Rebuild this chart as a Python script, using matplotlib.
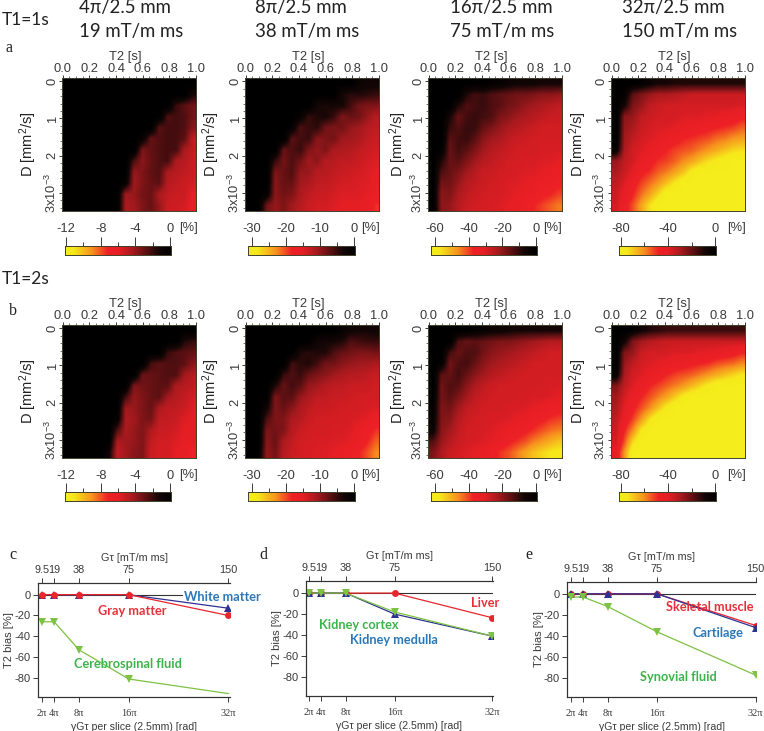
import numpy as np
import matplotlib
matplotlib.use('Agg')
from matplotlib import pyplot as plt
from matplotlib.colors import LinearSegmentedColormap
from matplotlib.ticker import MultipleLocator

W, H = 764, 731
plt.rcParams['font.family'] = ['Liberation Sans', 'DejaVu Sans']
plt.rcParams['axes.unicode_minus'] = False
plt.rcParams['mathtext.default'] = 'regular'

# heat maps: share of the colour bar range
# 0 = black (0 %), 100 = yellow (bar minimum); rows go down in D, columns across in T2
a_4pi = [
    [0,0,0,0,0,0,0,0,0,0,0,0,0,0,0,0],
    [0,0,0,0,0,0,0,0,0,0,0,0,0,0,0,12],
    [0,0,0,0,0,0,0,0,0,0,0,0,0,18,24,28],
    [0,0,0,0,0,0,0,0,0,0,0,0,22,20,22,28],
    [0,0,0,0,0,0,0,0,0,0,0,24,20,20,22,32],
    [0,0,0,0,0,0,0,0,0,5,26,22,20,20,24,42],
    [0,0,0,0,0,0,0,0,0,30,25,22,20,20,38,42],
    [0,0,0,0,0,0,0,0,22,32,26,22,20,38,40,44],
    [0,0,0,0,0,0,0,0,34,30,25,22,38,40,42,44],
    [0,0,0,0,0,0,0,5,36,30,26,24,40,42,44,46],
    [0,0,0,0,0,0,0,36,34,28,26,38,42,44,44,50],
    [0,0,0,0,0,0,0,38,36,30,26,34,44,45,46,52],
]
a_8pi = [
    [0,0,0,0,0,0,0,0,0,0,0,0,0,8,10,10],
    [0,0,0,0,0,0,0,0,0,0,0,12,16,14,16,18],
    [0,0,0,0,0,0,0,0,12,14,12,12,20,28,30,30],
    [0,0,0,0,0,0,6,18,14,12,18,30,26,28,34,40],
    [0,0,0,0,0,5,22,18,16,28,30,28,34,36,40,42],
    [0,0,0,0,0,24,20,18,32,30,28,36,36,38,42,44],
    [0,0,0,0,26,22,18,30,34,30,38,38,40,42,44,46],
    [0,0,0,18,28,22,28,36,32,40,40,42,42,44,46,48],
    [0,0,0,30,26,22,34,34,40,40,42,44,45,46,48,50],
    [0,0,0,32,26,26,36,38,42,42,44,46,46,48,48,52],
    [0,0,5,32,28,30,38,42,44,44,46,48,48,48,50,54],
    [0,0,28,34,30,36,40,44,46,46,48,50,50,50,52,62],
]
a_16pi = [
    [0,0,0,0,0,0,0,3,5,8,10,10,10,12,12,12],
    [0,0,0,0,14,20,18,22,24,26,28,28,30,32,32,34],
    [0,0,0,14,22,20,18,22,24,28,30,34,36,38,40,42],
    [0,0,12,26,20,18,20,22,30,32,36,38,40,42,44,44],
    [0,0,18,22,18,18,26,30,34,38,40,42,44,46,46,46],
    [0,0,24,20,18,24,32,36,38,42,44,45,46,46,46,46],
    [0,3,26,20,24,30,36,40,42,44,46,46,46,47,47,47],
    [0,14,26,24,30,36,40,42,44,46,46,47,47,48,48,50],
    [0,22,26,30,36,40,44,44,46,46,47,48,48,50,52,54],
    [0,28,28,34,40,42,44,46,46,48,48,50,52,54,56,58],
    [0,32,30,38,42,44,46,46,47,48,50,52,54,58,60,64],
    [0,32,34,40,44,46,46,47,48,50,52,56,60,64,68,72],
]
a_32pi = [
    [0,0,0,3,8,12,12,14,14,14,14,14,14,14,14,14],
    [0,4,24,30,34,38,38,40,42,44,44,44,44,44,44,44],
    [0,12,30,34,42,44,46,46,46,46,46,46,46,46,46,48],
    [0,32,34,42,44,46,46,46,48,48,48,50,50,52,54,58],
    [0,34,38,44,46,48,48,50,52,54,56,58,60,62,64,68],
    [0,36,42,46,48,50,54,56,60,62,64,66,70,72,76,78],
    [5,38,46,48,52,56,60,64,66,68,72,76,80,84,88,90],
    [34,42,46,52,56,62,64,68,74,78,84,90,94,98,100,100],
    [38,44,50,58,62,68,72,78,84,94,100,100,100,100,100,100],
    [42,48,56,64,70,76,84,92,100,100,100,100,100,100,100,100],
    [44,52,60,70,78,88,100,100,100,100,100,100,100,100,100,100],
    [46,56,66,78,90,100,100,100,100,100,100,100,100,100,100,100],
]
b_4pi = [
    [0,0,0,0,0,0,0,0,0,0,0,0,0,0,0,0],
    [0,0,0,0,0,0,0,0,0,0,0,0,0,0,14,18],
    [0,0,0,0,0,0,0,0,0,0,0,0,18,22,24,26],
    [0,0,0,0,0,0,0,0,0,0,20,24,22,22,24,32],
    [0,0,0,0,0,0,0,0,0,26,26,24,22,22,36,40],
    [0,0,0,0,0,0,0,0,30,28,26,24,24,38,40,42],
    [0,0,0,0,0,0,0,20,34,30,26,24,36,40,42,46],
    [0,0,0,0,0,0,0,36,34,30,26,38,42,42,44,48],
    [0,0,0,0,0,0,4,38,36,30,28,42,42,44,48,50],
    [0,0,0,0,0,0,22,38,34,30,38,44,44,46,50,50],
    [0,0,0,0,0,0,38,36,34,30,42,46,46,48,50,50],
    [0,0,0,0,0,10,42,36,32,30,44,46,46,50,52,60],
]
b_8pi = [
    [0,0,0,0,0,0,0,0,0,0,0,6,10,12,12,10],
    [0,0,0,0,0,0,0,0,10,12,12,14,22,20,18,18],
    [0,0,0,0,0,0,14,16,14,14,22,26,28,30,30,28],
    [0,0,0,0,0,20,16,14,20,28,28,32,34,36,36,38],
    [0,0,0,0,18,22,18,26,30,32,36,38,40,40,42,44],
    [0,0,0,14,26,20,24,34,36,40,42,42,44,44,44,46],
    [0,0,2,30,24,24,34,38,42,42,44,44,45,46,46,46],
    [0,0,10,30,26,32,38,42,44,44,45,46,46,46,47,48],
    [0,0,22,30,30,38,40,44,46,46,46,46,47,48,50,54],
    [0,0,30,28,30,40,44,46,46,46,47,47,48,52,56,62],
    [0,0,32,26,38,42,46,46,47,47,48,48,50,54,60,68],
    [0,3,34,28,40,44,46,47,48,48,50,52,54,60,66,74],
]
b_16pi = [
    [0,0,0,0,0,4,6,8,8,10,12,12,12,12,12,12],
    [0,0,0,22,26,24,26,28,30,30,32,34,36,38,40,40],
    [0,0,20,26,22,22,28,32,34,36,38,40,42,44,46,46],
    [0,4,28,22,20,26,32,36,38,40,42,44,46,46,46,46],
    [0,24,26,20,26,32,36,40,42,44,45,46,46,46,46,46],
    [0,28,22,24,32,38,42,44,46,46,46,46,46,46,47,47],
    [2,28,24,30,36,42,44,46,46,46,46,46,47,47,48,50],
    [4,30,28,36,42,44,46,46,46,47,47,48,50,52,54,56],
    [6,30,32,40,44,46,46,47,47,48,50,52,56,58,62,64],
    [8,32,36,42,46,46,47,48,50,52,54,58,62,66,70,72],
    [22,34,40,44,46,47,48,50,54,58,62,66,72,76,80,84],
    [30,38,44,46,48,50,52,56,62,66,72,78,84,88,92,94],
]
b_32pi = [
    [0,0,4,10,14,16,18,18,18,18,18,18,18,18,18,18],
    [0,10,30,36,40,42,44,44,44,44,44,44,44,44,44,44],
    [0,30,34,44,46,46,46,48,48,48,50,50,52,54,56,60],
    [0,34,42,46,48,50,52,54,56,58,60,62,66,68,70,74],
    [4,38,46,48,52,56,60,64,66,68,72,76,80,84,88,92],
    [30,42,48,54,60,64,68,72,76,82,88,94,100,100,100,100],
    [36,46,54,60,66,72,78,86,94,100,100,100,100,100,100,100],
    [38,50,58,66,74,84,94,100,100,100,100,100,100,100,100,100],
    [42,54,64,76,90,100,100,100,100,100,100,100,100,100,100,100],
    [44,60,74,92,100,100,100,100,100,100,100,100,100,100,100,100],
    [46,66,88,100,100,100,100,100,100,100,100,100,100,100,100,100],
    [52,76,100,100,100,100,100,100,100,100,100,100,100,100,100,100],
]

scale_min = [-12, -30, -60, -80]
scale_ticks = [[-12, -8, -4, 0], [-30, -20, -10, 0], [-60, -40, -20, 0], [-80, -40, 0]]
scale_minor = [[-10, -6, -2], [-25, -15, -5], [-50, -30, -10], [-60, -20]]

# line plots
slice_pi = [2, 4, 8, 16, 32]
slice_labels = ['2π', '4π', '8π', '16π', '32π']
grad_labels = ['9.5', '19', '38', '75', '150']

white_matter = [0, 0, 0, 0, -13]
gray_matter = [0, 0, 0, 0, -20]
csf = [-26, -26, -53, -81, -95]
liver = [0, 0, 0, 0, -23.5]
kidney_medulla = [0, 0, 0, -20, -41]
kidney_cortex = [0, 0, 0, -18, -41]
skeletal_muscle = [0, 0, 0, 0, -30]
cartilage = [0, 0, 0, 0, -32]
synovial_fluid = [-3, -3, -12, -36, -77]

RED, BLUE, GREEN = '#e8262c', '#2e3192', '#7dc242'
TXT_RED, TXT_BLUE, TXT_GREEN = '#e8303a', '#2a78b8', '#3cb44b'
INK = '#3a3a3a'

hot = LinearSegmentedColormap.from_list('bias', [
    (0.0, '#f5ee1c'), (0.08, '#f6e81b'), (0.25, '#f7931e'), (0.40, '#ee2125'),
    (0.50, '#e61f25'), (0.63, '#a81a1e'), (0.75, '#621113'), (0.88, '#140606'), (1.0, '#000000')])

fig = plt.figure(figsize=(W/100, H/100), dpi=100)


def px_axes(x0, y0, x1, y1):
    return fig.add_axes([x0/W, 1-y1/H, (x1-x0)/W, (y1-y0)/H])


def px_text(x, y, s, **kw):
    kw.setdefault('va', 'center')
    fig.text(x/W, 1-y/H, s, **kw)


def heat_panel(x0, y0, grid, vmin, ylab_x):
    ax = px_axes(x0, y0, x0+134, y0+133)
    vals = np.array(grid)/100*vmin
    ax.imshow(vals, cmap=hot, vmin=vmin, vmax=0, aspect='auto', interpolation='bilinear',
              extent=(0, 1, 3.49, -0.09))
    ax.set_xlim(-0.005, 1)
    ax.set_ylim(3.49, -0.09)
    ax.xaxis.tick_top()
    ax.xaxis.set_label_position('top')
    ax.set_xticks(np.arange(0, 1.01, 0.2))
    ax.set_xticklabels(['0.0', '0.2', '0.4', '0.6', '0.8', '1.0'], fontsize=9.3, color=INK)
    ax.xaxis.set_minor_locator(MultipleLocator(0.05))
    ax.set_yticks([0, 1, 2, 3])
    ax.set_yticklabels(['0', '1', '2', '3x10$^{-3}$'], rotation=90, va='center', fontsize=9.3, color=INK)
    ax.yaxis.set_minor_locator(MultipleLocator(0.2))
    ax.tick_params(which='major', length=2.5, width=0.7, pad=0, color=INK)
    ax.tick_params(which='minor', length=1.3, width=0.5, color=INK)
    ax.set_xlabel('T2 [s]', fontsize=9.3, color=INK)
    ax.xaxis.set_label_coords(0.47, 1.135)
    ax.set_ylabel('D [mm$^2$/s]', fontsize=10.5, color='#222222')
    ax.yaxis.set_label_coords(ylab_x, 0.5)
    for s in ax.spines.values():
        s.set_linewidth(0.7)
        s.set_color('#40402a')


def color_bar(x0, x1, y0, y1, vmin, ticks, minor, lpad):
    ax = px_axes(x0, y0, x1, y1)
    ramp = np.linspace(0, 1, 256).reshape(1, -1)
    ax.imshow(ramp, cmap=hot, aspect='auto', extent=(vmin*(1+lpad), -vmin*0.01, 0, 1))
    ax.set_xlim(vmin*(1+lpad), -vmin*0.01)
    ax.set_yticks([])
    ax.xaxis.tick_top()
    ax.set_xticks(ticks)
    ax.set_xticklabels([str(t) for t in ticks], fontsize=9.3, color=INK)
    ax.set_xticks(minor, minor=True)
    ax.tick_params(which='major', length=6.5, width=0.7, pad=1, color=INK)
    ax.tick_params(which='minor', length=3, width=0.7, color=INK)
    for s in ax.spines.values():
        s.set_linewidth(0.7)
        s.set_color('#40402a')


heat_x = [62, 245, 428, 611]
ylab_fx = [-0.17, -0.17, -0.145, -0.165]
bar_x = [(65, 171, 0.01), (248.5, 355, 0.034), (431, 537, 0.04), (618.5, 716, 0.025)]
pct_x = [188, 371, 553, 737]
rows = [(78, 245.7, 227, [a_4pi, a_8pi, a_16pi, a_32pi]),
        (325, 492.3, 474, [b_4pi, b_8pi, b_16pi, b_32pi])]

for y0, by, ty, grids in rows:
    for i in range(4):
        heat_panel(heat_x[i], y0, grids[i], scale_min[i], ylab_fx[i])
        color_bar(bar_x[i][0], bar_x[i][1], by, by+9, scale_min[i], scale_ticks[i], scale_minor[i], bar_x[i][2])
        px_text(pct_x[i], ty+1, '[%]', fontsize=9.3, color=INK, ha='center')


def line_panel(x0, y0, x1, y1, x2pi, x32pi, series, labels, zero_to=None):
    ax = px_axes(x0, y0, x1, y1)
    u = (x32pi-x2pi)/30
    xlim = (2-(x2pi-x0)/u, 32+(x1-x32pi)/u)
    ax.set_xlim(*xlim)
    ax.set_ylim(-98, 11.5)
    ax.plot([xlim[0], zero_to if zero_to else xlim[1]], [0, 0], color='#333333', lw=0.8, zorder=1)
    for vals, col, mk, ms, last in series:
        ax.plot(slice_pi, vals, color=col, lw=0.9, marker=mk, ms=ms, mew=0, zorder=3,
                markevery=None if last else [0, 1, 2, 3])
    ax.set_xticks(slice_pi)
    ax.set_xticklabels(slice_labels, fontsize=7.5, family=['Liberation Serif', 'DejaVu Serif'], color=INK)
    ax.set_yticks([0, -20, -40, -60, -80])
    ax.set_yticklabels(['0', '-20', '-40', '-60', '-80'], fontsize=8, color=INK)
    ax.tick_params(length=3.5, width=0.7, pad=2, color=INK)
    ax.tick_params(axis='x', pad=5)
    ax.set_xlabel('γGτ per slice (2.5mm) [rad]', fontsize=7.6, color=INK, labelpad=3)
    ax.set_ylabel('T2 bias [%]', fontsize=8, color=INK, labelpad=0)
    top = ax.twiny()
    top.set_xlim(*xlim)
    top.set_xticks(slice_pi)
    top.set_xticklabels(grad_labels, fontsize=7.8, color=INK)
    top.tick_params(length=3.5, width=0.7, pad=2, color=INK)
    top.set_xlabel('Gτ [mT/m ms]', fontsize=7.8, color=INK, labelpad=3)
    for a in (ax, top):
        a.spines['right'].set_visible(False)
        for s in ('left', 'bottom', 'top'):
            a.spines[s].set_linewidth(0.8)
            a.spines[s].set_color('#333333')
    for x, y, s, col in labels:
        ax.text(x, y, s, color=col, fontsize=9.2, fontweight='bold', family='Lato',
                ha='center', va='center', zorder=4)


line_panel(38, 582.7, 230, 696.7, 41.7, 228.3,
           [(white_matter, BLUE, '^', 5.5, True), (gray_matter, RED, 'o', 5, True),
            (csf, GREEN, 'v', 5.5, False)],
           [(31, -2, 'White matter', TXT_BLUE), (16.6, -15.7, 'Gray matter', TXT_RED),
            (15.8, -67, 'Cerebrospinal fluid', TXT_GREEN)], zero_to=24.6)
line_panel(306, 581, 492.5, 696, 309, 492.3,
           [(liver, RED, 'o', 5, True), (kidney_medulla, BLUE, '^', 5.5, True),
            (kidney_cortex, GREEN, 'v', 5.5, True)],
           [(30.8, -9.7, 'Liver', TXT_RED), (10.2, -30, 'Kidney cortex', TXT_GREEN),
            (15.9, -45, 'Kidney medulla', TXT_BLUE)])
line_panel(567.3, 581.7, 756, 697.3, 570.7, 755.7,
           [(skeletal_muscle, RED, 'o', 5, True), (cartilage, BLUE, '^', 5.5, True),
            (synovial_fluid, GREEN, 'v', 5.5, True)],
           [(24.6, -12.4, 'Skeletal muscle', TXT_RED), (25.9, -37.5, 'Cartilage', TXT_BLUE),
            (19.5, -79, 'Synovial fluid', TXT_GREEN)])

# headers and panel letters
heads = [(79, '4π/2.5 mm', '19 mT/m ms'), (255, '8π/2.5 mm', '38 mT/m ms'),
         (450, '16π/2.5 mm', '75 mT/m ms'), (622, '32π/2.5 mm', '150 mT/m ms')]
for x, l1, l2 in heads:
    px_text(x, 8, l1, fontsize=13.4, family=['Lato', 'DejaVu Sans'], color='#222222')
    px_text(x, 31, l2, fontsize=13.4, family=['Lato', 'DejaVu Sans'], color='#222222')
px_text(2, 20, 'T1=1s', fontsize=12.5, family='Lato', color='#222222')
px_text(2, 279, 'T1=2s', fontsize=12.5, family='Lato', color='#222222')
for x, y, s in [(5, 48, 'a'), (9, 311, 'b'), (9, 555, 'c'), (259, 555, 'd'), (525, 555, 'e')]:
    px_text(x, y, s, fontsize=11.5, family='Liberation Serif', color='#222222')

fig.savefig('out.png', dpi=100)
